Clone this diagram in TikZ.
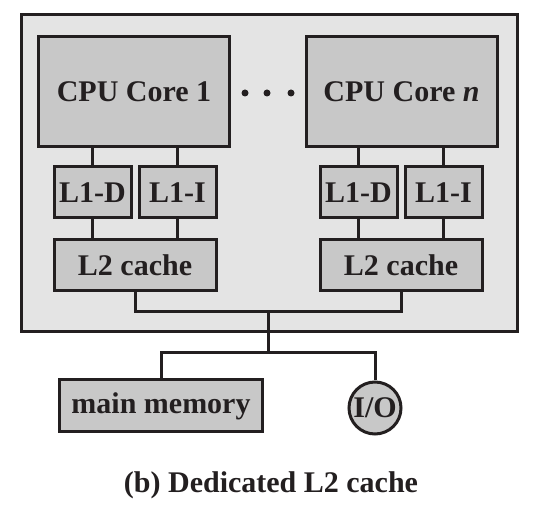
\documentclass[tikz,border=0pt]{standalone}
\usepackage{fontspec}
\setmainfont{Liberation Serif}
\usepackage{tikz}
\usetikzlibrary{positioning,calc}
\definecolor{ink}{HTML}{231F20}
\definecolor{chip}{HTML}{E4E4E4}
\definecolor{part}{HTML}{C8C8C8}

\begin{document}
\begin{tikzpicture}[x=1pt, y=-1pt, line width=3pt, draw=ink,
    unit/.style = {draw=ink, fill=part, text=ink, inner sep=0pt, align=center,
        font=\bfseries\fontsize{30}{33}\selectfont},
    core/.style = {unit, minimum width=191pt, minimum height=110pt},
    lone/.style = {unit, minimum width=77pt, minimum height=51pt},
    ltwo/.style = {unit, minimum width=162pt, minimum height=51pt}]
    \useasboundingbox (0,0) rectangle (541,510);
    \node [draw=ink, fill=chip, minimum width=496pt, minimum height=317pt] (chip) at (269,173.5) {};
    \node [core] (core1) at (134,92) {CPU Core 1};
    \node [core] (coren) at (401.5,92) {CPU Core \textit{n}};
    \foreach \x in {245,267,291}
        \fill [ink] (\x,93) circle (3.5pt);
    \node [lone] (l1d1) at (92.5,192.5) {L1-D};
    \node [lone] (l1i1) at (177.5,192.5) {L1-I};
    \node [lone] (l1dn) at (358.5,192.5) {L1-D};
    \node [lone] (l1in) at (443.5,192.5) {L1-I};
    \node [ltwo] (l2a) at (135,265.5) {L2 cache};
    \node [ltwo] (l2b) at (401,265.5) {L2 cache};
    \node [unit, minimum width=203pt, minimum height=52pt] (mem) at (161,406) {main memory};
    \node [unit, circle, minimum size=52pt] (io) at (375,408) {I/O};
    \node [text=ink, font=\bfseries\fontsize{30}{33}\selectfont] (cap) at (271,485) {(b) Dedicated L2 cache};
    \coordinate (bus) at (268,312);
    \coordinate (tap) at (268,353);
    % links
    \foreach \a/\b in {core1/l1d1, core1/l1i1, coren/l1dn, coren/l1in}
        \draw (\a.south -| \b) -- (\b.north);
    \foreach \a/\b in {l1d1/l2a, l1i1/l2a, l1dn/l2b, l1in/l2b}
        \draw (\a.south) -- (\a.south |- \b.north);
    \draw (l2a.south) |- (bus) -| (l2b.south);
    \draw (bus) -- (tap);
    \draw (mem.north) |- (tap) -| (io.north);
\end{tikzpicture}
\end{document}
